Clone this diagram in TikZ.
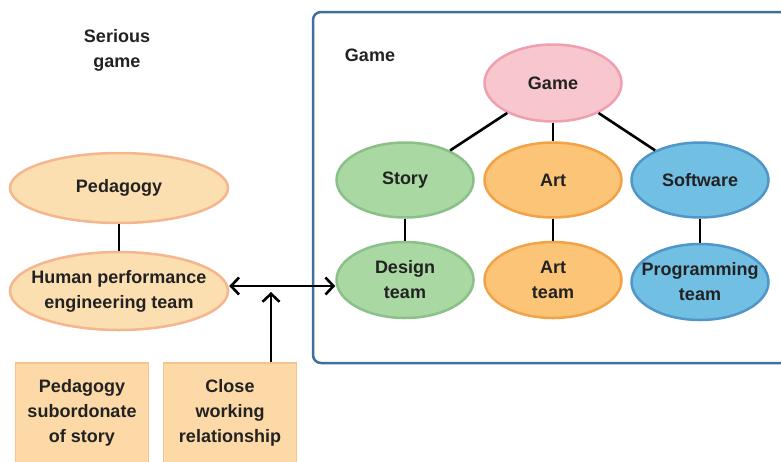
\documentclass[tikz,border=0pt]{standalone}
\usepackage{fontspec}
\setmainfont{Liberation Sans}
\usetikzlibrary{shapes.geometric,arrows.meta}
\definecolor{peachfill}{HTML}{FCDFB0}
\definecolor{peachdraw}{HTML}{F5B68E}
\definecolor{boxfill}{HTML}{FCD9A7}
\definecolor{boxdraw}{HTML}{F6C290}
\definecolor{pinkfill}{HTML}{F8C6CD}
\definecolor{pinkdraw}{HTML}{EF9FAE}
\definecolor{greenfill}{HTML}{A9D8A2}
\definecolor{greendraw}{HTML}{8CC089}
\definecolor{orangefill}{HTML}{FBC477}
\definecolor{orangedraw}{HTML}{F2A347}
\definecolor{bluefill}{HTML}{72BFE4}
\definecolor{bluedraw}{HTML}{5196C8}
\definecolor{framecol}{HTML}{3F6E9F}
\definecolor{txt}{HTML}{222222}
\tikzset{
  lbl/.style={font=\fontsize{18}{25}\selectfont\bfseries, text=txt, align=center, inner sep=0pt},
  ell/.style={lbl, ellipse, line width=2.5pt, inner xsep=-30pt, inner ysep=-6pt, minimum width=#1},
  ell/.default=137pt,
  boxnode/.style={lbl, rectangle, draw=boxdraw, fill=boxfill, line width=1.5pt, minimum width=133pt, minimum height=100pt},
  conn/.style={line width=2.6pt, black},
  arr/.style={line width=2.6pt, black, arrows={-Straight Barb[length=8pt,width=17pt,line width=2.6pt]}},
  darr/.style={line width=2.6pt, black, arrows={Straight Barb[length=8pt,width=17pt,line width=2.6pt]-Straight Barb[length=8pt,width=17pt,line width=2.6pt]}}
}
\begin{document}
\begin{tikzpicture}[x=1pt,y=-1pt]
\useasboundingbox (0,0) rectangle (781,461);
\clip (0,0) rectangle (781,461);
% frame
\draw[framecol, line width=2.5pt, rounded corners=8pt] (313,12) rectangle (820,363);
\node[lbl] (gamelbl) at (370,55) {Game};
\node[lbl] (serious) at (117,50) {Serious\\game};
% left side
\node[ell=218pt, minimum height=70pt, fill=peachfill, draw=peachdraw] (ped) at (119,188) {Pedagogy};
\node[ell=218pt, minimum height=78pt, fill=peachfill, draw=peachdraw] (hpe) at (119,291) {Human performance\\engineering team};
\node[boxnode] (box1) at (82,413) {Pedagogy\\subordonate\\of story};
\node[boxnode] (box2) at (230,413) {Close\\working\\relationship};
% game tree
\node[ell, minimum height=77pt, fill=pinkfill, draw=pinkdraw] (game) at (553,83) {Game};
\node[ell, minimum height=75pt, fill=greenfill, draw=greendraw] (story) at (405,180) {Story};
\node[ell, minimum height=75pt, fill=orangefill, draw=orangedraw] (art) at (553,180) {Art};
\node[ell, minimum height=75pt, fill=bluefill, draw=bluedraw] (soft) at (700,180) {Software};
\node[ell, minimum height=76pt, fill=greenfill, draw=greendraw] (design) at (405,280) {Design\\team};
\node[ell, minimum height=76pt, fill=orangefill, draw=orangedraw] (artteam) at (553,280) {Art\\team};
\node[ell, minimum height=76pt, fill=bluefill, draw=bluedraw] (prog) at (700,282) {Programming\\team};
% connectors
\draw[conn] (ped) -- (hpe);
\draw[conn] (game) -- (story);
\draw[conn] (game) -- (art);
\draw[conn] (game) -- (soft);
\draw[conn] (story) -- (design);
\draw[conn] (art) -- (artteam);
\draw[conn] (soft) -- (prog);
\coordinate (ay) at (0,286);
\draw[darr] (hpe.east |- ay) -- (design.west |- ay);
\coordinate (vt) at (271,292);
\draw[arr] (vt |- box2.north) -- (vt);
\end{tikzpicture}
\end{document}
